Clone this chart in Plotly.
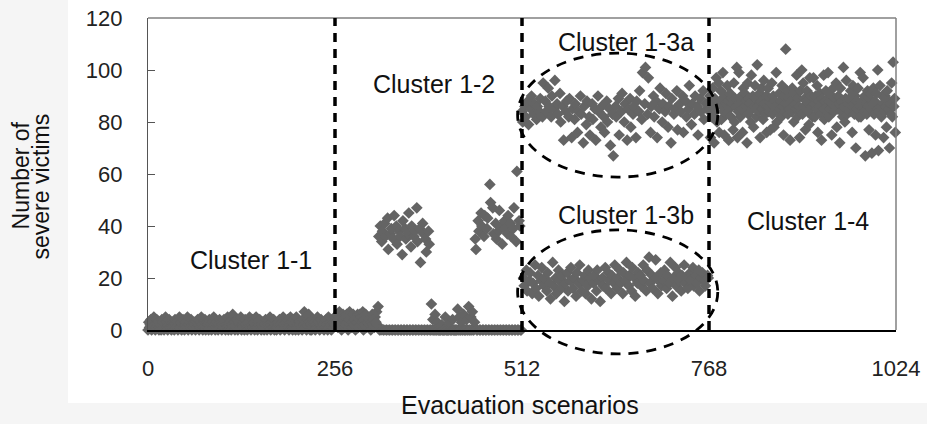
import plotly.graph_objects as go

# ---------------- data ----------------
x_ticks = [0, 256, 512, 768, 1024]
y_ticks = [0, 20, 40, 60, 80, 100, 120]
boundaries = [256, 512, 768]

cluster_1_1 = [
    0, 3, 1, 2, 4, 0, 1, 3, 5, 2, 0, 1, 4, 2, 3, 0,
    1, 2, 0, 4, 3, 1, 0, 2, 5, 3, 1, 0, 2, 4, 1, 3,
    0, 1, 3, 2, 0, 4, 2, 1, 3, 0, 2, 5, 1, 3, 0, 2,
    4, 1, 0, 2, 3, 1, 5, 0, 2, 3, 1, 4, 0, 2, 1, 3,
    2, 0, 3, 1, 4, 2, 0, 1, 3, 5, 2, 0, 1, 3, 4, 0,
    1, 3, 2, 0, 4, 1, 2, 0, 3, 1, 5, 2, 0, 1, 3, 2,
    0, 2, 4, 1, 3, 0, 2, 1, 4, 3, 0, 2, 1, 5, 0, 3,
    3, 1, 0, 2, 6, 1, 3, 0, 2, 1, 4, 0, 3, 2, 1, 5,
    0, 2, 1, 3, 0, 4, 2, 1, 0, 3, 2, 5, 1, 0, 2, 4,
    1, 3, 0, 2, 5, 1, 0, 3, 2, 4, 1, 0, 2, 3, 1, 0,
    2, 4, 1, 0, 3, 2, 1, 5, 0, 2, 3, 1, 4, 0, 2, 1,
    0, 1, 3, 2, 4, 0, 2, 1, 3, 5, 2, 0, 1, 3, 2, 4,
    1, 0, 2, 5, 3, 1, 0, 4, 2, 3, 0, 5, 1, 2, 0, 3,
    2, 3, 1, 0, 4, 2, 7, 1, 3, 0, 2, 4, 6, 3, 0, 2,
    0, 1, 4, 2, 3, 0, 2, 1, 5, 3, 1, 0, 2, 4, 1, 3,
    2, 0, 3, 1, 4, 2, 0, 5, 1, 3, 2, 0, 4, 1, 3, 2,
]

cluster_1_2 = [
    2, 5, 3, 6, 1, 4, 7, 2, 5, 0, 3, 6, 4, 1, 5, 2,
    6, 3, 0, 4, 7, 2, 5, 1, 3, 6, 2, 4, 0, 5, 3, 6,
    1, 4, 6, 2, 5, 3, 7, 0, 4, 2, 6, 1, 5, 3, 4, 2,
    5, 0, 3, 6, 2, 4, 1, 5, 3, 7, 2, 9, 36, 0, 40, 0,
    34, 38, 0, 0, 41, 36, 0, 0, 43, 31, 0, 0, 37, 39, 0, 0,
    35, 44, 0, 0, 40, 33, 0, 0, 38, 36, 0, 0, 29, 42, 0, 0,
    39, 35, 0, 0, 37, 45, 0, 0, 32, 40, 0, 0, 36, 38, 0, 0,
    47, 34, 0, 0, 39, 26, 0, 0, 41, 37, 0, 0, 35, 30, 0, 0,
    38, 33, 0, 0, 10, 0, 4, 0, 0, 6, 0, 0, 3, 0, 0, 0,
    0, 0, 2, 0, 0, 0, 0, 5, 0, 0, 0, 0, 0, 3, 0, 0,
    0, 4, 0, 0, 0, 0, 0, 0, 8, 0, 5, 0, 0, 3, 0, 0,
    6, 0, 0, 0, 4, 0, 0, 9, 0, 0, 5, 0, 7, 0, 0, 3,
    35, 31, 0, 0, 42, 38, 0, 0, 45, 40, 0, 0, 36, 44, 0, 0,
    39, 43, 0, 0, 56, 49, 0, 0, 47, 37, 0, 0, 41, 35, 0, 0,
    38, 46, 0, 0, 40, 33, 0, 0, 42, 39, 0, 0, 37, 44, 0, 0,
    41, 36, 0, 0, 39, 47, 0, 0, 34, 61, 0, 0, 42, 40, 0, 0,
]

cluster_1_3a = [
    84, 80, 86, 82, 88, 79, 85, 90, 83, 87, 81, 86, 84, 89, 82, 95,
    88, 84, 93, 86, 82, 90, 85, 96, 87, 83, 91, 80, 86, 73, 84, 88,
    82, 89, 74, 85, 81, 87, 76, 84, 90, 83, 72, 86, 79, 88, 82, 75,
    87, 81, 85, 73, 90, 84, 78, 86, 82, 76, 88, 80, 85, 71, 83, 67,
    86, 82, 89, 75, 84, 91, 80, 87, 73, 85, 89, 78, 83, 86, 74, 88,
    84, 92, 81, 99, 87, 101, 83, 97, 76, 86, 90, 82, 88, 74, 85, 93,
    80, 87, 84, 91, 78, 86, 72, 89, 83, 85, 92, 77, 87, 84, 90, 76,
    88, 82, 85, 94, 79, 87, 83, 90, 86, 75, 89, 84, 92, 81, 87, 85,
]

cluster_1_3b = [
    20, 17, 23, 15, 19, 22, 14, 18, 25, 16, 21, 13, 19, 24, 17, 20,
    15, 22, 18, 12, 26, 17, 20, 14, 23, 19, 16, 21, 11, 18, 22, 15,
    19, 24, 16, 20, 13, 22, 18, 25, 15, 19, 21, 14, 17, 23, 20, 12,
    18, 21, 15, 23, 19, 11, 20, 17, 24, 16, 22, 19, 14, 21, 18, 25,
    16, 20, 23, 18, 14, 22, 19, 26, 17, 21, 15, 24, 20, 13, 18, 22,
    21, 17, 25, 19, 15, 23, 28, 18, 21, 16, 20, 27, 14, 19, 22, 17,
    19, 23, 16, 21, 18, 26, 13, 20, 24, 17, 22, 19, 15, 21, 25, 18,
    20, 16, 22, 19, 24, 17, 21, 18, 23, 15, 20, 22, 19, 17, 21, 20,
]

cluster_1_4 = [
    85, 90, 74, 88, 82, 93, 86, 72, 89, 84, 97, 80, 87, 95, 76, 88,
    92, 81, 86, 99, 84, 75, 90, 87, 83, 94, 88, 73, 85, 91, 82, 89,
    87, 77, 95, 80, 89, 86, 101, 74, 84, 99, 87, 82, 90, 85, 76, 93,
    84, 91, 86, 88, 72, 95, 83, 89, 87, 80, 98, 85, 90, 78, 86, 94,
    89, 82, 102, 86, 84, 91, 74, 88, 93, 85, 81, 96, 87, 83, 90, 76,
    86, 93, 84, 89, 77, 87, 95, 83, 90, 78, 88, 85, 99, 80, 87, 84,
    91, 85, 88, 82, 94, 86, 75, 90, 84, 108, 87, 92, 83, 89, 85, 73,
    88, 84, 93, 86, 80, 91, 87, 85, 98, 82, 89, 86, 74, 92, 84, 100,
    83, 95, 86, 89, 77, 88, 92, 84, 87, 79, 97, 85, 90, 86, 82, 97,
    87, 82, 90, 85, 94, 76, 88, 86, 91, 83, 73, 89, 85, 98, 81, 88,
    92, 86, 84, 99, 82, 88, 85, 90, 75, 87, 93, 84, 89, 86, 95, 78,
    85, 90, 87, 72, 93, 84, 88, 82, 101, 86, 80, 89, 96, 83, 87, 85,
    89, 84, 92, 86, 76, 94, 87, 83, 90, 70, 88, 85, 93, 82, 86, 99,
    82, 88, 85, 97, 84, 90, 67, 87, 83, 92, 86, 77, 89, 85, 91, 68,
    87, 93, 83, 88, 75, 91, 85, 100, 69, 84, 94, 86, 82, 90, 87, 74,
    84, 90, 86, 78, 92, 85, 88, 70, 87, 83, 95, 82, 103, 86, 89, 76,
]

cluster_labels = ["Cluster 1-1", "Cluster 1-2", "Cluster 1-3a", "Cluster 1-3b", "Cluster 1-4"]
label_x = [141, 391, 654, 654, 904]
label_y = [27, 94.6, 110.8, 44.2, 42]

# ellipses (data units): x0, x1, y0, y1
ellipse_a = [506, 780, 58.8, 106.5]
ellipse_b = [506, 780, -9.2, 38.5]

# ---------------- build scenario order ----------------
cluster_1_3 = []
for k in range(len(cluster_1_3a) // 2):
    cluster_1_3 += cluster_1_3a[2 * k:2 * k + 2]
    cluster_1_3 += cluster_1_3b[2 * k:2 * k + 2]

xs, ys = [], []
for start, vals in [(0, cluster_1_1), (256, cluster_1_2), (512, cluster_1_3), (768, cluster_1_4)]:
    xs += [start + i for i in range(len(vals))]
    ys += vals

XMIN, XMAX = 0, 1024
YMIN, YMAX = 0, 120


def px(v):
    return (v - XMIN) / (XMAX - XMIN)


def py(v):
    return (v - YMIN) / (YMAX - YMIN)


FONT = "Liberation Sans, Arial, sans-serif"

fig = go.Figure()
fig.add_trace(go.Scatter(
    x=xs, y=ys, mode="markers",
    marker=dict(symbol="diamond", size=9, color="#646464", line=dict(width=0)),
    cliponaxis=False, showlegend=False, hoverinfo="x+y",
))

shapes = []
shapes.append(dict(type="rect", xref="paper", yref="paper", x0=-0.107, x1=1.06, y0=-0.234, y1=1.1,
                   fillcolor="white", line=dict(width=0), layer="below"))
shapes.append(dict(type="line", xref="paper", yref="paper", x0=0, x1=1, y0=1, y1=1,
                   line=dict(color="#808080", width=1.5)))
shapes.append(dict(type="line", xref="paper", yref="paper", x0=1, x1=1, y0=0, y1=1,
                   line=dict(color="#808080", width=1.5)))
for b in boundaries:
    shapes.append(dict(type="line", xref="x", yref="paper", x0=b, x1=b, y0=0, y1=1,
                       line=dict(color="black", width=3.5, dash="9px,7px"), layer="above"))
for e in (ellipse_a, ellipse_b):
    shapes.append(dict(type="circle", xref="paper", yref="paper",
                       x0=px(e[0]), x1=px(e[1]), y0=py(e[2]), y1=py(e[3]),
                       line=dict(color="black", width=2.8, dash="10px,8px"), layer="above"))

annotations = []
for t, lx, ly in zip(cluster_labels, label_x, label_y):
    annotations.append(dict(x=lx, y=ly, xref="x", yref="y", text=t, showarrow=False,
                            font=dict(family=FONT, size=25, color="#111111"),
                            xanchor="center", yanchor="middle"))
annotations.append(dict(x=0.497, y=-0.24, xref="paper", yref="paper", text="Evacuation scenarios",
                        showarrow=False, font=dict(family=FONT, size=25, color="#111111"),
                        xanchor="center", yanchor="middle"))
annotations.append(dict(x=-0.17, y=0.495, xref="paper", yref="paper", text="Number of",
                        textangle=-90, showarrow=False, font=dict(family=FONT, size=23, color="#111111"),
                        xanchor="center", yanchor="middle"))
annotations.append(dict(x=-0.143, y=0.46, xref="paper", yref="paper", text="severe victims",
                        textangle=-90, showarrow=False, font=dict(family=FONT, size=23, color="#111111"),
                        xanchor="center", yanchor="middle"))

fig.update_layout(
    width=927, height=424,
    margin=dict(l=148, r=31, t=18, b=94, autoexpand=False),
    paper_bgcolor="#f5f5f5", plot_bgcolor="white",
    shapes=shapes, annotations=annotations,
    xaxis=dict(range=[XMIN, XMAX], tickvals=x_ticks, ticktext=[str(v) for v in x_ticks],
               showgrid=False, zeroline=False, showline=True, linecolor="black", linewidth=1.5,
               ticks="", ticklabelstandoff=18, automargin=False,
               tickfont=dict(family=FONT, size=22, color="#222222")),
    yaxis=dict(range=[YMIN, YMAX], tickvals=y_ticks, ticktext=[str(v) for v in y_ticks],
               showgrid=False, zeroline=False, showline=True, linecolor="#555555", linewidth=1.2,
               ticks="inside", ticklen=7, tickcolor="#555555", ticklabelstandoff=20, automargin=False,
               tickfont=dict(family=FONT, size=22, color="#222222")),
)

fig.write_html("out.html", config={"displayModeBar": False},
               post_script="document.body.style.margin='0';document.body.style.overflow='hidden';")
